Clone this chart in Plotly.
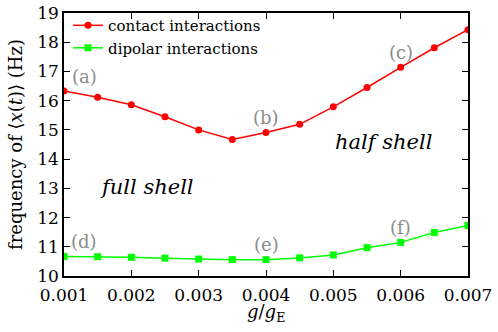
import plotly.graph_objects as go

g = [0.001, 0.0015, 0.002, 0.0025, 0.003, 0.0035, 0.004, 0.0045, 0.005, 0.0055, 0.006, 0.0065, 0.007]
contact = [16.33, 16.12, 15.86, 15.45, 15.00, 14.67, 14.91, 15.19, 15.79, 16.45, 17.14, 17.81, 18.43]
dipolar = [10.67, 10.66, 10.64, 10.61, 10.58, 10.56, 10.56, 10.62, 10.72, 10.97, 11.15, 11.49, 11.73]

labels_x = [0.001, 0.004, 0.006, 0.001, 0.004, 0.006]
labels_y = [contact[0], contact[6], contact[10], dipolar[0], dipolar[6], dipolar[10]]
labels_t = ["(a)", "(b)", "(c)", "(d)", "(e)", "(f)"]

FONT = "DejaVu Serif"

fig = go.Figure()
fig.add_trace(go.Scatter(x=g, y=contact, mode="lines+markers", name="contact interactions",
                         line=dict(color="#ff0000", width=1.5),
                         marker=dict(symbol="circle", size=7, color="#ff0000")))
fig.add_trace(go.Scatter(x=g, y=dipolar, mode="lines+markers", name="dipolar interactions",
                         line=dict(color="#00ff00", width=1.5),
                         marker=dict(symbol="square", size=7, color="#00ff00")))

for x, y, t in zip(labels_x, labels_y, labels_t):
    fig.add_annotation(x=x, y=y, text=t, showarrow=False, xanchor="center", yanchor="middle",
                       xshift=(20 if x == 0.001 else 0), yshift=15,
                       font=dict(family=FONT, size=18, color="#8c8c8c"))

fig.add_annotation(x=0.00575, y=14.58, text="<i>half shell</i>", showarrow=False,
                   font=dict(family=FONT, size=21, color="black"))
fig.add_annotation(x=0.00224, y=13.05, text="<i>full shell</i>", showarrow=False,
                   font=dict(family=FONT, size=21, color="black"))

# x-axis title (placed as paper annotation to match the reference spacing)
fig.add_annotation(x=0.5, y=0, xref="paper", yref="paper", xanchor="center", yanchor="top",
                   yshift=-23, showarrow=False, text="<i>g</i>/<i>g</i><sub>E</sub>",
                   font=dict(family=FONT, size=18, color="black"))

axis_common = dict(showline=True, linecolor="black", linewidth=1.5, mirror="ticks",
                   ticks="inside", ticklen=6, tickcolor="black", tickwidth=1,
                   showgrid=False, zeroline=False, automargin=False,
                   tickfont=dict(family=FONT, size=17, color="black"))

fig.update_xaxes(range=[0.001, 0.007], tickvals=[0.001, 0.002, 0.003, 0.004, 0.005, 0.006, 0.007],
                 ticktext=["0.001", "0.002", "0.003", "0.004", "0.005", "0.006", "0.007"],
                 ticklabelstandoff=3,
                 **axis_common)
fig.update_yaxes(range=[10, 19], dtick=1,
                 title=dict(text="frequency of ⟨<i>x</i>(<i>t</i>)⟩ (Hz)", standoff=10,
                            font=dict(family=FONT, size=18, color="black")),
                 **axis_common)

fig.update_layout(width=498, height=332, margin=dict(l=64, r=30, t=13, b=56, autoexpand=False),
                  plot_bgcolor="white", paper_bgcolor="white",
                  legend=dict(x=0.01, y=1.015, xanchor="left", yanchor="top",
                              bgcolor="rgba(0,0,0,0)", font=dict(family=FONT, size=15, color="black"),
                              tracegroupgap=0, itemwidth=30),
                  showlegend=True)

fig.write_html("out.html", config={"displayModeBar": False},
               post_script="document.body.style.margin='0';")
